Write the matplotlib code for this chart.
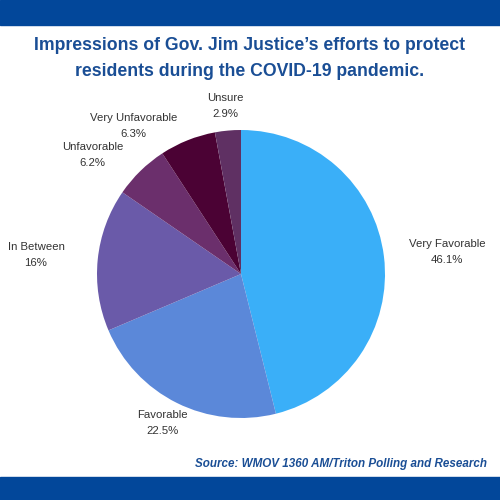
import matplotlib
matplotlib.use("Agg")
import matplotlib.pyplot as plt
import numpy as np

categories = ["Very Favorable", "Favorable", "In Between", "Unfavorable", "Very Unfavorable", "Unsure"]
values = [46.1, 22.5, 16.0, 6.2, 6.3, 2.9]
value_labels = ["46.1%", "22.5%", "16%", "6.2%", "6.3%", "2.9%"]
colors = ["#3AAFF8", "#5B88D9", "#6A5AA9", "#6B2F6C", "#4B0234", "#5F3063"]
# label placement: (angle in degrees, distance in radii)
label_pos = [(6.1, 1.44), (-117.9, 1.17), (174.7, 1.43), (141.4, 1.32), (125.9, 1.27), (95.4, 1.17)]

plt.rcParams['font.family'] = ['Liberation Sans', 'DejaVu Sans']

fig = plt.figure(figsize=(5, 5), dpi=100)
fig.patch.set_facecolor("white")

ax = fig.add_axes([0, 0, 1, 1])
ax.pie(values, colors=colors, startangle=90, counterclock=False, radius=1.0,
       center=(0, 0), wedgeprops=dict(linewidth=0))
R = 144.0
ax.set_xlim(-241 / R, 259 / R)
ax.set_ylim(-226 / R, 274 / R)
ax.set_aspect('auto')
ax.axis('off')

for cat, vl, (ang, d) in zip(categories, value_labels, label_pos):
    a = np.deg2rad(ang)
    ax.text(d * np.cos(a), d * np.sin(a), f"{cat}\n{vl}", ha='center', va='center',
            fontsize=8.2, color="#333333", linespacing=1.75)

# bands
band_color = "#02479A"
fig.patches.append(matplotlib.patches.Rectangle((0, 1 - 25 / 500), 1, 25 / 500,
                   transform=fig.transFigure, color=band_color, zorder=0))
fig.patches.append(matplotlib.patches.Rectangle((0, 0), 1, 23 / 500,
                   transform=fig.transFigure, color=band_color, zorder=0))

title_color = "#1A4E95"
fig.text(0.5, 1 - 46 / 500, "Impressions of Gov. Jim Justice\u2019s efforts to protect",
         ha='center', va='center', fontsize=12.7, fontweight='bold', color=title_color)
fig.text(0.5, 1 - 71 / 500, "residents during the COVID-19 pandemic.",
         ha='center', va='center', fontsize=12.7, fontweight='bold', color=title_color)

fig.text(487 / 500, 1 - 464 / 500, "Source: WMOV 1360 AM/Triton Polling and Research",
         ha='right', va='center', fontsize=8.4, fontweight='bold', fontstyle='italic',
         color=title_color)

fig.savefig("out.png", dpi=100, facecolor="white")
